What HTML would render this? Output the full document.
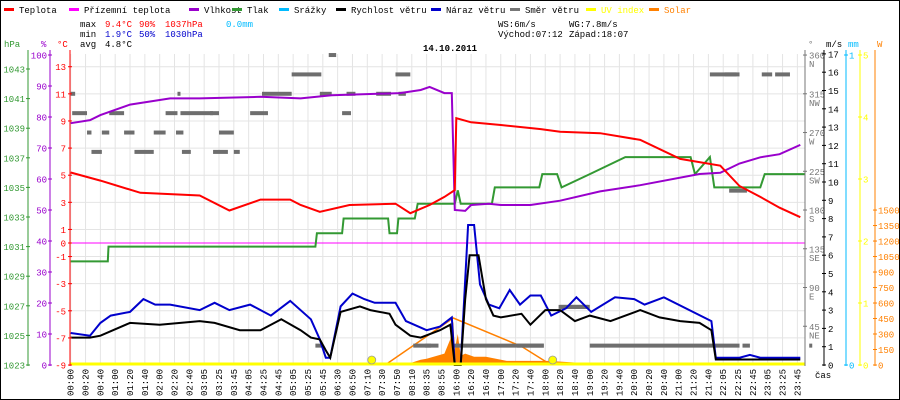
<!DOCTYPE html>
<html><head><meta charset="utf-8"><style>
html,body{margin:0;padding:0;background:#fff}
svg{display:block}
text{font-family:"Liberation Mono",monospace;font-size:9px}
</style></head><body>
<svg id="c" width="900" height="400" xmlns="http://www.w3.org/2000/svg">
<rect x="0.5" y="0.5" width="899" height="399" fill="#fff" stroke="#000"/>
</svg>
<script>
// ---- data ----
const timeLabels=["00:00","00:20","00:40","01:00","01:20","01:40","02:00","02:20","02:40","03:05","03:25","03:45","04:05","04:25","04:45","05:05","05:25","05:45","06:30","06:50","07:10","07:30","07:50","08:10","08:35","08:55","16:00","16:20","16:40","17:00","17:20","17:40","18:00","18:20","18:40","19:00","19:20","19:40","20:00","20:20","20:40","21:00","21:20","21:40","22:05","22:25","22:45","23:05","23:25","23:45"];
const tempT=[0,2,4.7,8.7,10.7,12.8,14.8,15.5,16.8,18.8,21.9,22.9,24.2,25.2,25.9,26.0,27,29,31.7,33,35.7,38.4,41.1,43.8,45.1,46.5,47.8,49.2];
const tempV=[5.2,4.6,3.7,3.5,2.4,3.2,3.2,2.8,2.3,2.8,2.9,2.2,2.8,3.4,3.9,9.2,8.9,8.7,8.4,8.2,8.1,7.6,6.2,5.7,4.2,3.4,2.6,1.9];
const humT=[0,1.3,2,4,6.7,8.7,12.8,15.5,17.6,22.2,23.6,24.2,25.2,25.7,25.9,26.6,27,28.2,29,31,33,35.7,38.4,42.4,43.8,45.1,46.5,47.8,49.2];
const humV=[78,79,80.6,84,86,86,86.5,86,87,87.7,88.7,89.7,87.7,87.7,50,49.7,51.6,52,51.6,51.6,53,56,58,61.6,62,65,67,68,71];
const presT=[0,2.5,2.55,16.5,16.6,18.3,18.4,21.4,21.5,22,22.1,23.2,23.4,25.9,26.1,26.3,28.4,28.6,31.6,31.8,32.8,33.1,35,37.4,41.8,42.1,43.1,43.4,46.5,46.8,49.5];
const presV=[1030,1030,1031,1031,1031.9,1031.9,1032.9,1032.9,1031.9,1031.9,1032.9,1032.9,1033.9,1033.9,1034.8,1033.9,1033.9,1035,1035,1035.9,1035.9,1035,1035.9,1037.05,1037.05,1035.9,1037.05,1035,1035,1035.9,1035.9];
const windT=[0,1.3,2,4,6,8.7,9.7,11.4,12.8,14.2,15.5,16.2,16.8,17.2,17.5,18.2,19.5,20.2,21.5,21.9,22.9,23.6,24.9,25.6,25.9,26.3,26.6,26.9,27.5,28,28.5,29,30.4,31,32,33,34,35,36.4,38.4,39.7,41.1,42.4,43.2,43.5,46.5,49.2];
const windV=[1.5,1.5,1.6,2.3,2.2,2.4,2.3,1.9,1.9,2.5,1.9,1.5,1.4,0.8,0.4,2.9,3.2,3,2.8,2.2,1.6,1.5,1.9,2.2,0,0,3.6,6,6,3.6,2.7,2.6,2.8,2.2,3,3,2.4,2.7,2.4,3,2.6,2.4,2.3,1.9,0.3,0.3,0.3];
const gustT=[0,1.3,2,2.7,4,4.9,5.7,6.7,8.7,9.7,10.7,12.1,13.5,14.8,16.2,16.8,17.2,17.5,18.2,19,19.8,20.5,21.9,22.6,24,24.9,25.7,25.9,26.3,26.8,27.2,27.6,28.2,28.9,29.6,30.3,31,31.7,32.4,33.4,34.1,35.1,36.7,38,38.7,40,43.2,43.5,45.1,45.8,46.5,49.2];
const gustV=[1.75,1.6,2.3,2.7,2.9,3.6,3.3,3.3,3,3.4,3,3.3,2.7,3.5,2.5,1.4,0.4,0.4,3.2,3.9,3.6,3.4,3.4,2.4,1.9,2.1,2.6,0,0,7.65,7.65,4.4,3.3,3.1,4.1,3.3,3.8,3.8,2.7,3.1,3.7,2.9,3.7,3.6,3.3,3.7,2.4,0.4,0.4,0.55,0.4,0.4];
const dirStart=[0,0.1,1.1,1.4,2.1,2.6,3.6,4.3,5.6,6.4,7.2,7.1,7.4,7.5,9.4,9.6,10.0,11.0,12.1,12.9,13.1,14.9,16.5,16.8,17.4,18.3,18.6,20.6,21.9,23.1,22.1,23.9,25.7,30.1,32.9,33.0,35.0,43.1,44.4,44.1,45.3,46.6,47.5,49.8];
const dirEnd=[0.3,1.1,1.4,2.1,2.6,3.6,4.3,5.6,6.4,7.2,7.3,7.6,9.6,8.1,10.0,10.6,11.0,11.4,13.1,14.9,13.3,16.9,17.0,17.6,17.9,18.9,19.2,21.6,22.9,24.8,22.6,24.3,31.9,31.9,34.9,35.0,45.1,45.1,45.6,44.9,45.8,47.3,48.5,50];
const dirV=[315,292.5,270,247.5,270,292.5,270,247.5,270,292.5,315,270,292.5,247.5,292.5,247.5,270,247.5,292.5,315,292.5,337.5,22.5,315,360,292.5,315,315,337.5,22.5,315,22.5,22.5,22.5,67.5,67.5,22.5,337.5,202.5,337.5,22.5,337.5,337.5,22.5];
const solarLineT=[21.2,25.8,30.4,32.4];
const solarLineV=[0,455,180,0];
const solarAreaT=[22.5,23.6,24,25.2,25.6,25.8,25.9,26.1,26.3,26.6,27.2,28,29.4,32.2,34.4,37.2,37.5];
const solarAreaV=[0,50,60,110,250,420,150,300,90,110,80,80,40,40,20,15,0];
const sunMarkT=[20.3,32.5];
const tempTicks=[13,11,9,7,5,3,1,0,-1,-3,-5,-7,-9];
const humTicks=[100,90,80,70,60,50,40,30,20,10,0];
const presTicks=[1043,1041,1039,1037,1035,1033,1031,1029,1027,1025,1023];
const dirTicks=[360,315,270,225,180,135,90,45];
const dirNames=["N","NW","W","SW","S","SE","E","NE"];
const windTicks=[17,16,15,14,13,12,11,10,9,8,7,6,5,4,3,2,1,0];
const uvTicks=[5,4,3,2,1,0];
const solarTicks=[1500,1350,1200,1050,900,750,600,450,300,150,0];

// ---- scales ----
const X=i=>70.7+i*14.83;
const yT=t=>243-t*13.56;
const yH=p=>365-p*3.1;
const yP=h=>365-(h-1023)*14.8;
const yW=v=>365-v*18.3;
const yD=d=>365-d*0.861;
const yU=u=>365-u*62;
const yS=w=>365-w*0.1033;

const svg=document.getElementById('c');
const NS='http://www.w3.org/2000/svg';
function mk(tag,attrs,parent){const e=document.createElementNS(NS,tag);for(const k in attrs)e.setAttribute(k,attrs[k]);(parent||svg).appendChild(e);return e;}
function txt(x,y,s,fill,anchor,parent){const e=mk('text',{x:x,y:y,fill:fill||'#000','text-anchor':anchor||'start'},parent);e.textContent=s;return e;}

// grid
const grid=mk('g',{});


timeLabels.forEach((l,i)=>{mk('line',{x1:X(i),x2:X(i),y1:54,y2:365,stroke:'#e4e4e4'},grid);});
tempTicks.forEach(t=>{if(t!==0)mk('line',{x1:70,x2:805,y1:yT(t),y2:yT(t),stroke:'#e4e4e4'},grid);});
mk('line',{x1:70,x2:805,y1:yT(0),y2:yT(0),stroke:'#888'},grid);

function poly(T,V,ys,color,name,w){
 const p=mk('polyline',{points:T.map((t,i)=>X(t).toFixed(1)+','+ys(V[i]).toFixed(1)).join(' '),fill:'none',stroke:color,'stroke-width':w||2});
 
 
 return p;
}
const sa=mk('polygon',{points:solarAreaT.map((t,i)=>X(t).toFixed(1)+','+yS(solarAreaV[i]).toFixed(1)).join(' '),fill:'#ff8000'});


poly(solarLineT,solarLineV,yS,'#ff8000','solar-line',1.5);
dirV.forEach((d,i)=>{
 const r=mk('rect',{x:X(dirStart[i]),y:yD(d)-2,width:Math.max(3,X(dirEnd[i])-X(dirStart[i])),height:4,fill:'#6e6e6e'});
 
 
});
const app=mk('line',{x1:70,x2:805,y1:yT(0),y2:yT(0),stroke:'#ff00ff','stroke-width':1});


poly(presT,presV,yP,'#339933','pressure-line');
poly(gustT,gustV,yW,'#0000cc','wind-gust-line');
poly(windT,windV,yW,'#000','wind-speed-line');
poly(humT,humV,yH,'#9900cc','humidity-line');
poly(tempT,tempV,yT,'#ff0000','temperature-line');
const uv=mk('line',{x1:70,x2:805,y1:364,y2:364,stroke:'#ffff00','stroke-width':3});


sunMarkT.forEach(t=>{const c=mk('circle',{cx:X(t),cy:360,r:4,fill:'#ffff00',stroke:'#999','stroke-width':0.8});
 
 });

function axis(x,color,ticks,ys,lx,anchor,name){
 const g=mk('g',{});
 
 
 mk('line',{x1:x,x2:x,y1:50,y2:366,stroke:color,'stroke-width':1},g);
 ticks.forEach(t=>{const y=ys(t);mk('line',{x1:x-2,x2:x+2,y1:y,y2:y,stroke:color},g);txt(lx,y+3.5,String(t),color,anchor,g);});
 return g;
}
axis(28,'#339933',presTicks,yP,25,'end','pressure-axis');
axis(50,'#9900cc',humTicks,yH,47,'end','humidity-axis');
axis(70,'#ff0000',tempTicks,yT,66,'end','temperature-axis');
const dg=axis(805,'#777',dirTicks,yD,809,'start','direction-axis');
dirTicks.forEach((d,i)=>txt(809,yD(d)+12,dirNames[i],'#777','start',dg));
axis(824,'#000',windTicks,yW,828,'start','wind-speed-axis');
axis(846,'#00bbff',[1,0],v=>365-v*310,849,'start','rain-axis');
axis(860,'#ffff00',uvTicks,yU,863,'start','uv-axis');
axis(875,'#ff8000',solarTicks,yS,878,'start','solar-axis');
[['hPa',4,'#339933'],['%',41,'#9900cc'],['°C',57,'#ff0000'],['°',808,'#777'],['m/s',826,'#000'],['mm',848,'#00bbff'],['W',877,'#ff8000']].forEach(a=>{
 const e=txt(a[1],47,a[0],a[2]);
 
 
});
timeLabels.forEach((l,i)=>{const e=mk('text',{x:0,y:0,transform:`translate(${X(i)+3},396) rotate(-90)`,'font-size':'8.5'});e.textContent=l;
 
 });
const cas=txt(815,378,'čas');



const tt=mk('text',{x:450,y:51,'text-anchor':'middle','font-size':'13','font-weight':'bold'});tt.textContent='14.10.2011';



const leg=[['Teplota','#ff0000',4],['Přízemní teplota','#ff00ff',69],['Vlhkost','#9900cc',189],['Tlak','#339933',232],['Srážky','#00bbff',279],['Rychlost větru','#000',336],['Náraz větru','#0000cc',431],['Směr větru','#777',510],['UV index','#ffff00',586],['Solar','#ff8000',649]];
leg.forEach(l=>{const g=mk('g',{});
 
 
 mk('rect',{x:l[2],y:8,width:10,height:3,fill:l[1]},g);
 txt(l[2]+15,13,l[0],(l[1]==='#ffff00'||l[1]==='#ff8000')?l[1]:'#000','start',g);});

const st=mk('g',{});


[['max',80,27,'#000'],['9.4°C',105,27,'#ff0000'],['90%',139,27,'#ff0000'],['1037hPa',165,27,'#ff0000'],['0.0mm',226,27,'#00bbff'],
 ['min',80,37,'#000'],['1.9°C',105,37,'#0000cc'],['50%',139,37,'#0000cc'],['1030hPa',165,37,'#0000cc'],
 ['avg',80,47,'#000'],['4.8°C',105,47,'#000'],
 ['WS:6m/s',498,27,'#000'],['WG:7.8m/s',569,27,'#000'],['Východ:07:12',498,37,'#000'],['Západ:18:07',569,37,'#000']].forEach(s=>txt(s[1],s[2],s[0],s[3],'start',st));
</script>
</body></html>
